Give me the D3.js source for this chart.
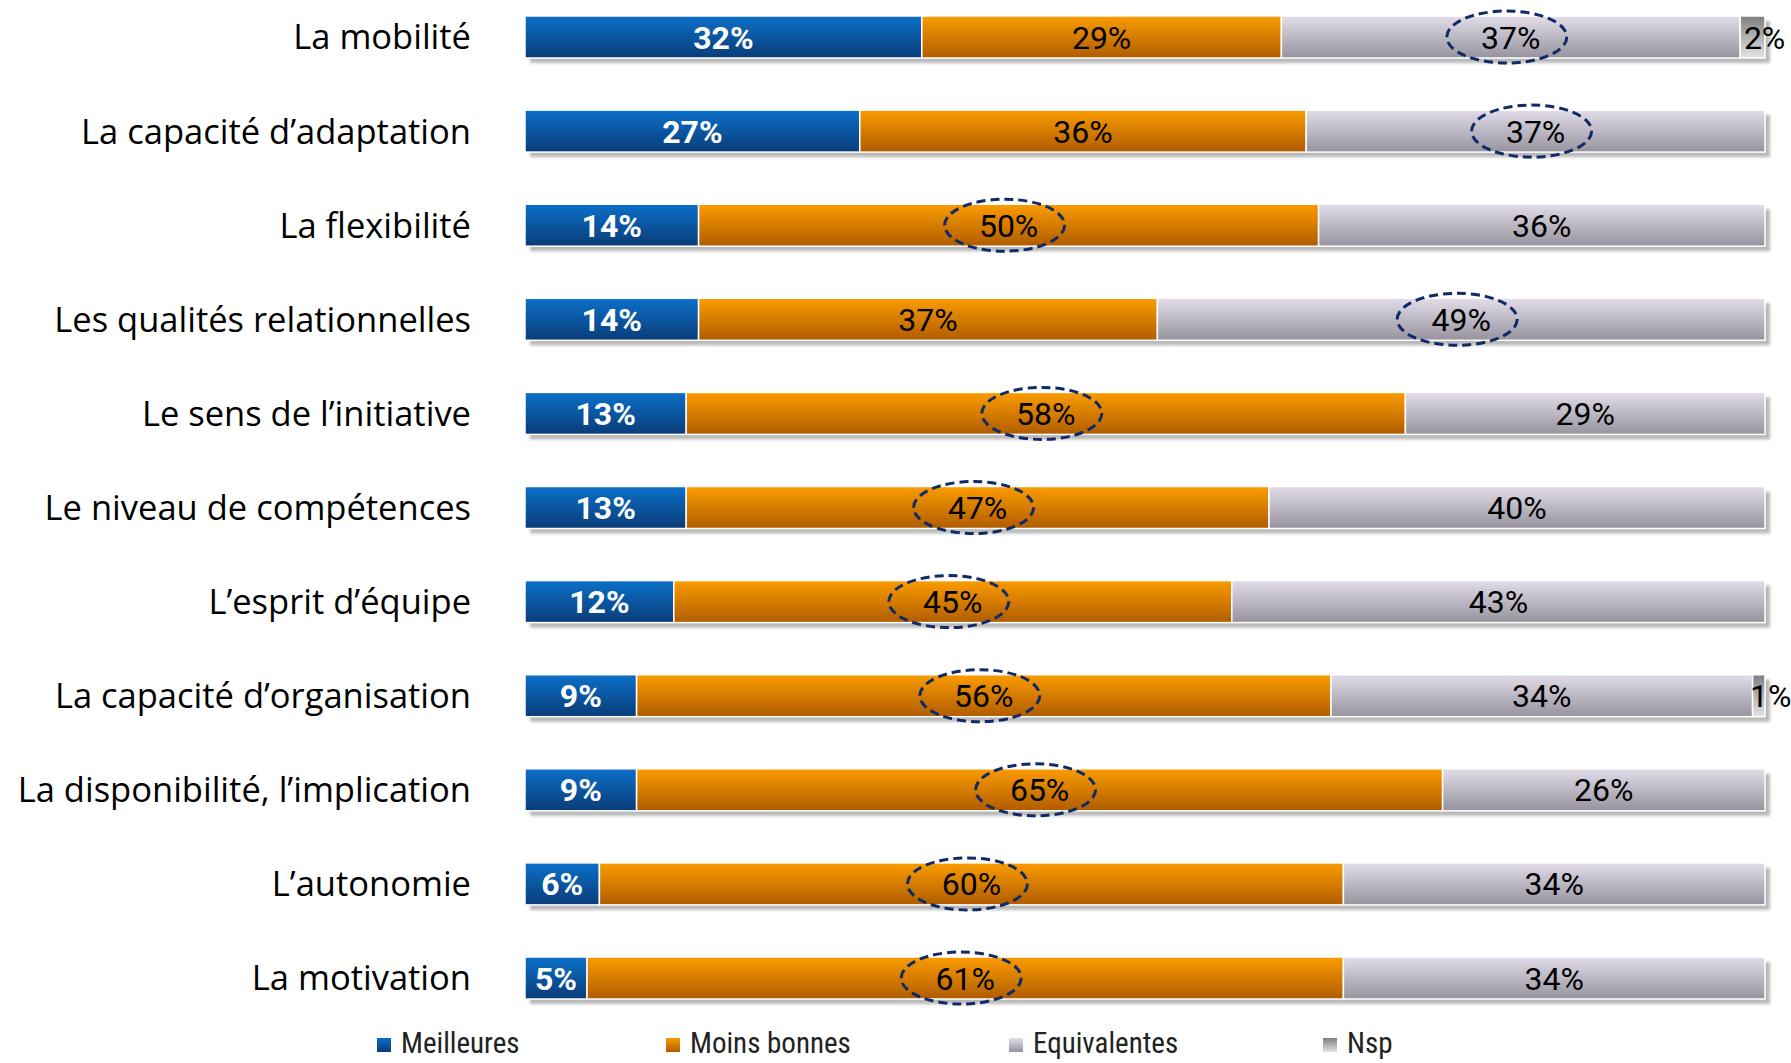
<!DOCTYPE html>
<html>
<head>
<meta charset="utf-8">
<script src="https://cdn.jsdelivr.net/npm/d3@7"></script>
<style>
  body { margin: 0; background: #fff; }
  svg { display: block; }
</style>
</head>
<body>
<div id="chart"></div>
<script>
// data
var categories = ["La mobilité", "La capacité d’adaptation", "La flexibilité",
  "Les qualités relationnelles", "Le sens de l’initiative", "Le niveau de compétences",
  "L’esprit d’équipe", "La capacité d’organisation", "La disponibilité, l’implication",
  "L’autonomie", "La motivation"];
var seriesNames = ["Meilleures", "Moins bonnes", "Equivalentes", "Nsp"];
var meilleures   = [32, 27, 14, 14, 13, 13, 12, 9, 9, 6, 5];
var moinsBonnes  = [29, 36, 50, 37, 58, 47, 45, 56, 65, 60, 61];
var equivalentes = [37, 37, 36, 49, 29, 40, 43, 34, 26, 34, 34];
var nsp          = [2, 0, 0, 0, 0, 0, 0, 1, 0, 0, 0];
// which series is circled on each row (index into seriesNames)
var circled      = [2, 2, 1, 2, 1, 1, 1, 1, 1, 1, 1];

var width = 1791, height = 1063;

var svg = d3.select("#chart").append("svg")
  .attr("width", width).attr("height", height);

var defs = svg.append("defs");
var grads = [
  ["g0", "#0b70c8", "#0a3c78"],
  ["g1", "#fb9c00", "#b05c00"],
  ["g2", "#e2dde9", "#96939e"],
  ["g3", "#808080", "#e4e4e4"]
];
grads.forEach(function (g) {
  var lg = defs.append("linearGradient").attr("id", g[0])
    .attr("x1", 0).attr("y1", 0).attr("x2", 0).attr("y2", 1);
  lg.append("stop").attr("offset", "0%").attr("stop-color", g[1]);
  lg.append("stop").attr("offset", "100%").attr("stop-color", g[2]);
});
defs.append("filter").attr("id", "blur")
  .attr("x", "-5%").attr("y", "-50%").attr("width", "110%").attr("height", "200%")
  .append("feGaussianBlur").attr("stdDeviation", 1.5);

var x = d3.scaleLinear().domain([0, 100]).range([525, 1765]);
var y = d3.scalePoint().domain(categories).range([37, 978]);
var barH = 42;

var rows = categories.map(function (c, i) {
  var vals = [meilleures[i], moinsBonnes[i], equivalentes[i], nsp[i]];
  var acc = 0;
  var segs = vals.map(function (v, k) {
    var s = { k: k, v: v, x0: acc, x1: acc + v, row: i };
    acc += v;
    return s;
  });
  return { cat: c, i: i, segs: segs };
});

var row = svg.selectAll(".row").data(rows).enter().append("g")
  .attr("class", "row")
  .attr("transform", function (d) { return "translate(0," + y(d.cat) + ")"; });

// shadow
row.append("rect")
  .attr("x", x(0) + 5).attr("y", -barH / 2 + 5)
  .attr("width", x(100) - x(0)).attr("height", barH)
  .attr("fill", "#b8b8b8").attr("filter", "url(#blur)");

// segments
row.selectAll(".seg").data(function (d) { return d.segs.filter(function (s) { return s.v > 0; }); })
  .enter().append("rect")
  .attr("class", "seg")
  .attr("x", function (d) { return x(d.x0); })
  .attr("y", -barH / 2)
  .attr("width", function (d) { return x(d.x1) - x(d.x0); })
  .attr("height", barH)
  .attr("fill", function (d) { return "url(#g" + d.k + ")"; })
  .attr("stroke", "#fff").attr("stroke-width", 1.5);

// dashed ellipses
row.append("ellipse")
  .attr("cx", function (d) {
    var s = d.segs[circled[d.i]];
    return x((s.x0 + s.x1) / 2) - 4;
  })
  .attr("cy", 0).attr("rx", 60).attr("ry", 26)
  .attr("fill", "none").attr("stroke", "#0f2a66")
  .attr("stroke-width", 3).attr("stroke-dasharray", "9,5");

// value labels
row.selectAll(".val").data(function (d) { return d.segs.filter(function (s) { return s.v > 0; }); })
  .enter().append("text")
  .attr("class", "val")
  .attr("x", function (d) {
    var cx = x((d.x0 + d.x1) / 2);
    return d.k === 3 ? cx + 12 : cx;
  })
  .attr("y", 0).attr("dy", "0.36em")
  .attr("text-anchor", "middle")
  .attr("font-family", "Roboto, sans-serif")
  .attr("font-size", 32)
  .attr("font-weight", function (d) { return d.k === 0 ? "bold" : "normal"; })
  .attr("fill", function (d) { return d.k === 0 ? "#fff" : "#000"; })
  .text(function (d) { return d.v + "%"; });

// category labels
row.append("text")
  .attr("x", 471).attr("y", 0).attr("dy", "0.36em")
  .attr("text-anchor", "end")
  .attr("font-family", "'Open Sans', sans-serif")
  .attr("font-size", 34.5)
  .attr("fill", "#000")
  .text(function (d) { return d.cat; });

// legend
var legX = [377, 666, 1009, 1323];
var leg = svg.selectAll(".leg").data(seriesNames).enter().append("g")
  .attr("class", "leg")
  .attr("transform", function (d, i) { return "translate(" + legX[i] + ",1043)"; });
leg.append("rect")
  .attr("x", 0).attr("y", -5).attr("width", 14).attr("height", 14)
  .attr("fill", function (d, i) { return "url(#g" + i + ")"; });
leg.append("text")
  .attr("x", 24).attr("y", 0).attr("dy", "0.36em")
  .attr("font-family", "'Liberation Sans Narrow', 'Roboto Condensed', sans-serif")
  .attr("font-size", 29)
  .attr("fill", "#222")
  .text(function (d) { return d; });
</script>
</body>
</html>
